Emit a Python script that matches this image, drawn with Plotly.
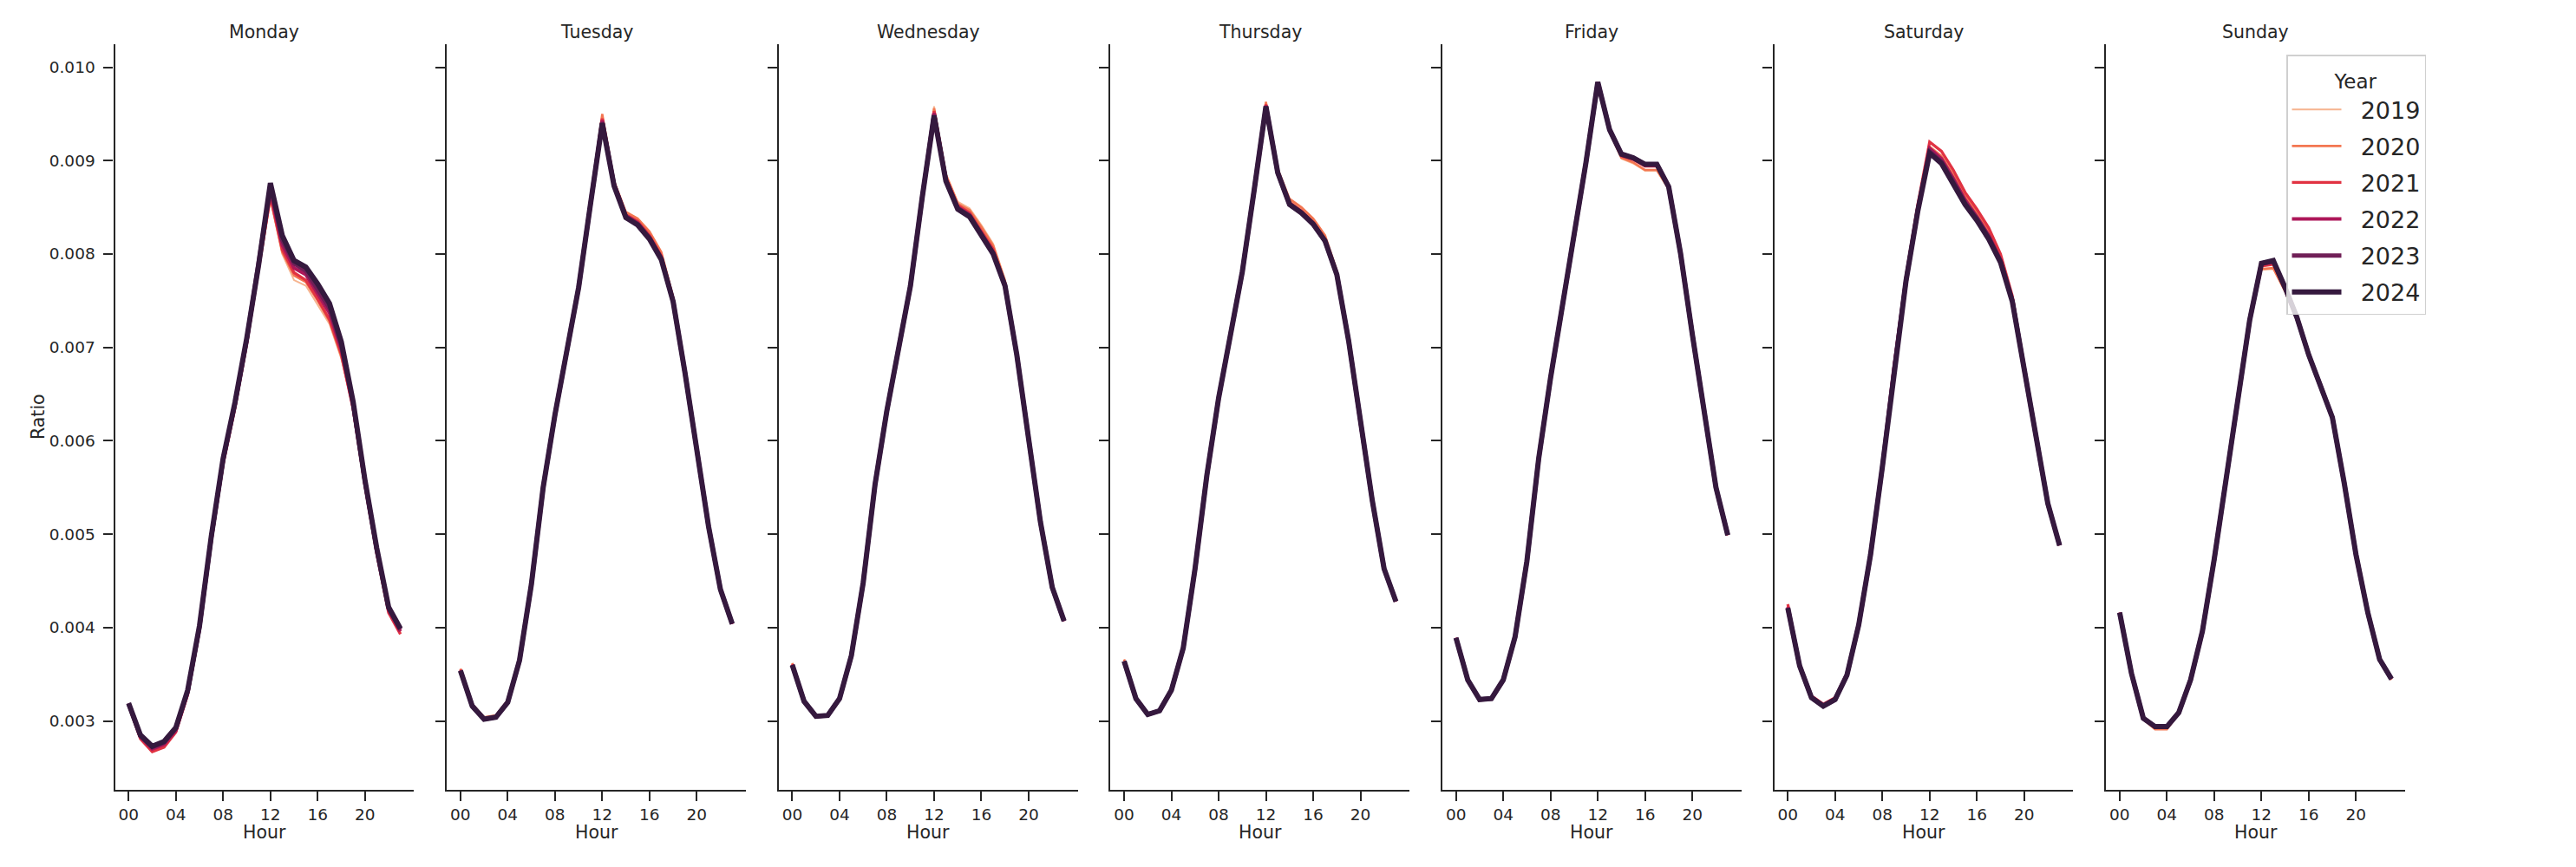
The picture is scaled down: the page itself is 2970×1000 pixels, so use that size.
import plotly.graph_objects as go

W, H = 2970, 1000

days = ["Monday", "Tuesday", "Wednesday", "Thursday", "Friday", "Saturday", "Sunday"]
years = [2019, 2020, 2021, 2022, 2023, 2024]
hours = list(range(24))
hour_ticks = [0, 4, 8, 12, 16, 20]
hour_tick_labels = ["00", "04", "08", "12", "16", "20"]
ratio_ticks = [0.003, 0.004, 0.005, 0.006, 0.007, 0.008, 0.009, 0.010]

year_colors = ["#f6b48f", "#f37651", "#e13342", "#ad1759", "#701f57", "#35193e"]

# ---- Monday ----
monday = {
    2019: [0.00318, 0.00282, 0.00268, 0.00273, 0.00289, 0.00329, 0.00398, 0.00494, 0.00577, 0.00637, 0.00706, 0.00784, 0.00858, 0.00800, 0.00772, 0.00766, 0.00746, 0.00725, 0.00688, 0.00635, 0.00553, 0.00481, 0.00418, 0.00395],
    2020: [0.00318, 0.00282, 0.00268, 0.00273, 0.00289, 0.00329, 0.00398, 0.00493, 0.00576, 0.00636, 0.00705, 0.00783, 0.00860, 0.00802, 0.00777, 0.00770, 0.00750, 0.00728, 0.00690, 0.00635, 0.00553, 0.00480, 0.00417, 0.00394],
    2021: [0.00317, 0.00281, 0.00267, 0.00272, 0.00288, 0.00328, 0.00397, 0.00492, 0.00575, 0.00635, 0.00704, 0.00782, 0.00862, 0.00805, 0.00780, 0.00772, 0.00752, 0.00730, 0.00693, 0.00634, 0.00552, 0.00479, 0.00416, 0.00393],
    2022: [0.00318, 0.00283, 0.00270, 0.00275, 0.00290, 0.00330, 0.00399, 0.00495, 0.00578, 0.00638, 0.00707, 0.00785, 0.00868, 0.00810, 0.00785, 0.00778, 0.00758, 0.00737, 0.00698, 0.00637, 0.00555, 0.00482, 0.00419, 0.00396],
    2023: [0.00319, 0.00284, 0.00272, 0.00277, 0.00292, 0.00332, 0.00401, 0.00497, 0.00580, 0.00640, 0.00709, 0.00787, 0.00872, 0.00815, 0.00790, 0.00782, 0.00762, 0.00742, 0.00702, 0.00640, 0.00557, 0.00484, 0.00421, 0.00398],
    2024: [0.00319, 0.00285, 0.00273, 0.00278, 0.00293, 0.00333, 0.00402, 0.00498, 0.00581, 0.00641, 0.00710, 0.00788, 0.00876, 0.00820, 0.00793, 0.00786, 0.00768, 0.00747, 0.00706, 0.00642, 0.00558, 0.00485, 0.00422, 0.00399],
}

# ---- Tuesday ----
tuesday = {
    2019: [0.00354, 0.00317, 0.00303, 0.00305, 0.00321, 0.00366, 0.00447, 0.00550, 0.00628, 0.00695, 0.00765, 0.00855, 0.00946, 0.00876, 0.00843, 0.00836, 0.00821, 0.00799, 0.00752, 0.00674, 0.00593, 0.00508, 0.00441, 0.00404],
    2020: [0.00356, 0.00318, 0.00304, 0.00306, 0.00322, 0.00367, 0.00448, 0.00551, 0.00629, 0.00696, 0.00766, 0.00857, 0.00950, 0.00878, 0.00845, 0.00838, 0.00824, 0.00802, 0.00754, 0.00675, 0.00594, 0.00509, 0.00441, 0.00404],
    2021: [0.00355, 0.00317, 0.00303, 0.00305, 0.00321, 0.00366, 0.00447, 0.00550, 0.00628, 0.00695, 0.00765, 0.00855, 0.00945, 0.00876, 0.00842, 0.00835, 0.00820, 0.00798, 0.00752, 0.00674, 0.00593, 0.00508, 0.00441, 0.00404],
    2022: [0.00354, 0.00316, 0.00302, 0.00304, 0.00320, 0.00365, 0.00446, 0.00550, 0.00628, 0.00695, 0.00764, 0.00854, 0.00943, 0.00875, 0.00841, 0.00833, 0.00818, 0.00796, 0.00750, 0.00673, 0.00593, 0.00508, 0.00441, 0.00404],
    2023: [0.00354, 0.00316, 0.00302, 0.00304, 0.00320, 0.00365, 0.00446, 0.00550, 0.00628, 0.00695, 0.00764, 0.00853, 0.00941, 0.00874, 0.00840, 0.00832, 0.00817, 0.00795, 0.00749, 0.00673, 0.00593, 0.00508, 0.00441, 0.00404],
    2024: [0.00354, 0.00316, 0.00302, 0.00304, 0.00320, 0.00365, 0.00446, 0.00550, 0.00628, 0.00695, 0.00764, 0.00853, 0.00940, 0.00873, 0.00839, 0.00831, 0.00816, 0.00794, 0.00749, 0.00673, 0.00593, 0.00508, 0.00441, 0.00404],
}

# ---- Wednesday ----
wednesday = {
    2019: [0.00362, 0.00322, 0.00306, 0.00307, 0.00325, 0.00371, 0.00449, 0.00554, 0.00633, 0.00701, 0.00768, 0.00865, 0.00958, 0.00886, 0.00856, 0.00849, 0.00831, 0.00811, 0.00773, 0.00694, 0.00603, 0.00514, 0.00444, 0.00408],
    2020: [0.00362, 0.00322, 0.00306, 0.00307, 0.00325, 0.00371, 0.00449, 0.00554, 0.00633, 0.00701, 0.00768, 0.00864, 0.00956, 0.00885, 0.00854, 0.00847, 0.00829, 0.00809, 0.00771, 0.00694, 0.00603, 0.00514, 0.00444, 0.00408],
    2021: [0.00361, 0.00321, 0.00305, 0.00306, 0.00324, 0.00370, 0.00448, 0.00553, 0.00632, 0.00700, 0.00767, 0.00863, 0.00953, 0.00882, 0.00852, 0.00844, 0.00825, 0.00805, 0.00769, 0.00693, 0.00602, 0.00513, 0.00443, 0.00407],
    2022: [0.00360, 0.00321, 0.00305, 0.00306, 0.00324, 0.00370, 0.00448, 0.00553, 0.00632, 0.00700, 0.00766, 0.00862, 0.00951, 0.00880, 0.00850, 0.00842, 0.00822, 0.00802, 0.00767, 0.00692, 0.00602, 0.00513, 0.00443, 0.00407],
    2023: [0.00360, 0.00321, 0.00305, 0.00306, 0.00324, 0.00370, 0.00448, 0.00553, 0.00632, 0.00700, 0.00766, 0.00861, 0.00949, 0.00879, 0.00849, 0.00841, 0.00821, 0.00801, 0.00766, 0.00692, 0.00602, 0.00513, 0.00443, 0.00407],
    2024: [0.00360, 0.00321, 0.00305, 0.00306, 0.00324, 0.00370, 0.00448, 0.00553, 0.00632, 0.00700, 0.00766, 0.00861, 0.00948, 0.00878, 0.00848, 0.00840, 0.00820, 0.00800, 0.00766, 0.00692, 0.00602, 0.00513, 0.00443, 0.00407],
}

# ---- Thursday ----
thursday = {
    2019: [0.00365, 0.00325, 0.00308, 0.00312, 0.00334, 0.00379, 0.00463, 0.00563, 0.00646, 0.00713, 0.00782, 0.00869, 0.00961, 0.00890, 0.00857, 0.00848, 0.00836, 0.00818, 0.00780, 0.00708, 0.00618, 0.00536, 0.00463, 0.00428],
    2020: [0.00366, 0.00326, 0.00308, 0.00312, 0.00334, 0.00379, 0.00464, 0.00564, 0.00647, 0.00714, 0.00782, 0.00870, 0.00963, 0.00891, 0.00859, 0.00850, 0.00838, 0.00820, 0.00782, 0.00709, 0.00619, 0.00537, 0.00464, 0.00428],
    2021: [0.00364, 0.00324, 0.00307, 0.00311, 0.00333, 0.00378, 0.00463, 0.00563, 0.00646, 0.00713, 0.00781, 0.00868, 0.00960, 0.00888, 0.00855, 0.00846, 0.00834, 0.00816, 0.00779, 0.00707, 0.00618, 0.00536, 0.00463, 0.00428],
    2022: [0.00364, 0.00324, 0.00307, 0.00311, 0.00333, 0.00378, 0.00463, 0.00563, 0.00646, 0.00713, 0.00781, 0.00868, 0.00959, 0.00887, 0.00854, 0.00845, 0.00833, 0.00815, 0.00778, 0.00707, 0.00618, 0.00536, 0.00463, 0.00428],
    2023: [0.00364, 0.00324, 0.00307, 0.00311, 0.00333, 0.00378, 0.00463, 0.00563, 0.00646, 0.00713, 0.00781, 0.00868, 0.00958, 0.00887, 0.00853, 0.00844, 0.00832, 0.00814, 0.00778, 0.00707, 0.00618, 0.00536, 0.00463, 0.00428],
    2024: [0.00364, 0.00324, 0.00307, 0.00311, 0.00333, 0.00378, 0.00463, 0.00563, 0.00646, 0.00713, 0.00781, 0.00868, 0.00958, 0.00887, 0.00853, 0.00844, 0.00832, 0.00814, 0.00778, 0.00707, 0.00618, 0.00536, 0.00463, 0.00428],
}

# ---- Friday ----
friday = {
    2019: [0.00389, 0.00344, 0.00323, 0.00324, 0.00344, 0.00390, 0.00471, 0.00581, 0.00667, 0.00742, 0.00819, 0.00898, 0.00983, 0.00930, 0.00902, 0.00897, 0.00889, 0.00889, 0.00869, 0.00800, 0.00714, 0.00632, 0.00550, 0.00499],
    2020: [0.00389, 0.00344, 0.00323, 0.00324, 0.00344, 0.00390, 0.00471, 0.00581, 0.00667, 0.00742, 0.00819, 0.00898, 0.00983, 0.00931, 0.00903, 0.00898, 0.00890, 0.00890, 0.00870, 0.00800, 0.00714, 0.00632, 0.00550, 0.00499],
    2021: [0.00389, 0.00344, 0.00323, 0.00324, 0.00344, 0.00390, 0.00471, 0.00581, 0.00667, 0.00742, 0.00819, 0.00898, 0.00984, 0.00932, 0.00905, 0.00901, 0.00894, 0.00894, 0.00871, 0.00801, 0.00714, 0.00632, 0.00550, 0.00499],
    2022: [0.00389, 0.00344, 0.00323, 0.00324, 0.00344, 0.00390, 0.00471, 0.00581, 0.00667, 0.00742, 0.00819, 0.00898, 0.00984, 0.00933, 0.00906, 0.00902, 0.00895, 0.00895, 0.00872, 0.00801, 0.00714, 0.00632, 0.00550, 0.00499],
    2023: [0.00389, 0.00344, 0.00323, 0.00324, 0.00344, 0.00390, 0.00471, 0.00581, 0.00667, 0.00742, 0.00819, 0.00898, 0.00984, 0.00933, 0.00907, 0.00903, 0.00896, 0.00896, 0.00872, 0.00801, 0.00714, 0.00632, 0.00550, 0.00499],
    2024: [0.00389, 0.00344, 0.00323, 0.00324, 0.00344, 0.00390, 0.00471, 0.00581, 0.00667, 0.00742, 0.00819, 0.00898, 0.00984, 0.00933, 0.00907, 0.00903, 0.00896, 0.00896, 0.00872, 0.00801, 0.00714, 0.00632, 0.00550, 0.00499],
}

# ---- Saturday ----
saturday = {
    2019: [0.00423, 0.00360, 0.00326, 0.00317, 0.00324, 0.00350, 0.00404, 0.00479, 0.00573, 0.00679, 0.00774, 0.00851, 0.00914, 0.00904, 0.00884, 0.00861, 0.00843, 0.00823, 0.00796, 0.00752, 0.00679, 0.00604, 0.00533, 0.00488],
    2020: [0.00423, 0.00360, 0.00326, 0.00317, 0.00324, 0.00350, 0.00404, 0.00479, 0.00573, 0.00679, 0.00774, 0.00851, 0.00915, 0.00905, 0.00885, 0.00862, 0.00844, 0.00824, 0.00797, 0.00753, 0.00679, 0.00604, 0.00533, 0.00488],
    2021: [0.00425, 0.00361, 0.00327, 0.00318, 0.00325, 0.00351, 0.00405, 0.00480, 0.00575, 0.00681, 0.00776, 0.00853, 0.00920, 0.00910, 0.00890, 0.00866, 0.00848, 0.00828, 0.00800, 0.00755, 0.00680, 0.00605, 0.00534, 0.00489],
    2022: [0.00422, 0.00360, 0.00326, 0.00317, 0.00324, 0.00350, 0.00404, 0.00479, 0.00573, 0.00678, 0.00773, 0.00849, 0.00913, 0.00902, 0.00881, 0.00858, 0.00840, 0.00820, 0.00794, 0.00751, 0.00678, 0.00604, 0.00533, 0.00488],
    2023: [0.00421, 0.00359, 0.00325, 0.00316, 0.00323, 0.00349, 0.00403, 0.00478, 0.00572, 0.00677, 0.00771, 0.00847, 0.00910, 0.00899, 0.00878, 0.00855, 0.00838, 0.00818, 0.00792, 0.00750, 0.00677, 0.00603, 0.00533, 0.00488],
    2024: [0.00421, 0.00359, 0.00325, 0.00316, 0.00323, 0.00349, 0.00403, 0.00478, 0.00572, 0.00677, 0.00771, 0.00846, 0.00908, 0.00897, 0.00876, 0.00853, 0.00836, 0.00816, 0.00791, 0.00749, 0.00677, 0.00603, 0.00533, 0.00488],
}

# ---- Sunday ----
sunday = {
    2019: [0.00416, 0.00351, 0.00302, 0.00292, 0.00292, 0.00308, 0.00344, 0.00396, 0.00473, 0.00560, 0.00646, 0.00727, 0.00783, 0.00784, 0.00760, 0.00730, 0.00691, 0.00659, 0.00625, 0.00555, 0.00478, 0.00416, 0.00366, 0.00345],
    2020: [0.00416, 0.00351, 0.00302, 0.00291, 0.00291, 0.00308, 0.00344, 0.00396, 0.00473, 0.00560, 0.00646, 0.00727, 0.00784, 0.00785, 0.00760, 0.00729, 0.00690, 0.00658, 0.00624, 0.00554, 0.00478, 0.00416, 0.00366, 0.00344],
    2021: [0.00416, 0.00351, 0.00303, 0.00293, 0.00293, 0.00309, 0.00344, 0.00396, 0.00473, 0.00560, 0.00647, 0.00728, 0.00787, 0.00789, 0.00762, 0.00731, 0.00691, 0.00659, 0.00625, 0.00555, 0.00478, 0.00416, 0.00366, 0.00345],
    2022: [0.00416, 0.00351, 0.00303, 0.00294, 0.00294, 0.00309, 0.00344, 0.00396, 0.00473, 0.00560, 0.00647, 0.00729, 0.00789, 0.00791, 0.00763, 0.00732, 0.00692, 0.00660, 0.00625, 0.00555, 0.00478, 0.00416, 0.00366, 0.00345],
    2023: [0.00416, 0.00351, 0.00303, 0.00294, 0.00294, 0.00309, 0.00344, 0.00396, 0.00473, 0.00560, 0.00647, 0.00729, 0.00790, 0.00792, 0.00764, 0.00732, 0.00692, 0.00660, 0.00625, 0.00555, 0.00478, 0.00416, 0.00366, 0.00345],
    2024: [0.00416, 0.00351, 0.00303, 0.00294, 0.00294, 0.00309, 0.00344, 0.00396, 0.00473, 0.00560, 0.00647, 0.00729, 0.00790, 0.00793, 0.00764, 0.00732, 0.00692, 0.00660, 0.00625, 0.00555, 0.00478, 0.00416, 0.00366, 0.00345],
}

day_data = [monday, tuesday, wednesday, thursday, friday, saturday, sunday]

# ---- styling ----
FONT = "DejaVu Sans"
INK = "#262626"
line_widths = [2.0, 2.6, 3.3, 4.1, 5.0, 6.0]
LEGEND_PAD = "\u00a0\u00a0"

# the page body adds an 8px margin; positions below are page pixels
OFF = 8
panel_left_px = 132.6 - OFF
panel_step_px = 382.6
panel_width_px = 344.7
axis_top_px = 51 - OFF
axis_bottom_px = 911 - OFF
x_range = [-1.15, 24.15]
y_range = [0.002263, 0.010246]

fig = go.Figure()

for i, (day, data) in enumerate(zip(days, day_data)):
    n = "" if i == 0 else str(i + 1)
    for k, year in enumerate(years):
        fig.add_trace(go.Scatter(
            x=hours, y=data[year], mode="lines",
            line=dict(color=year_colors[k], width=line_widths[k]),
            name=LEGEND_PAD + str(year), legendgroup=str(year), showlegend=(i == 0),
            xaxis="x" + n, yaxis="y" + n,
            hovertemplate=day + " %{x}h: %{y:.5f}<extra>" + str(year) + "</extra>",
        ))
    l = panel_left_px + i * panel_step_px
    r = l + panel_width_px
    fig.layout["xaxis" + n] = dict(
        domain=[l / W, r / W], anchor="y" + n, range=x_range,
        tickmode="array", tickvals=hour_ticks, ticktext=hour_tick_labels,
        ticks="outside", ticklen=11, tickwidth=2, tickcolor=INK,
        showline=True, linecolor=INK, linewidth=2.4,
        showgrid=False, zeroline=False,
        tickfont=dict(family=FONT, size=18.5, color=INK),
    )
    fig.layout["yaxis" + n] = dict(
        domain=[1 - axis_bottom_px / H, 1 - axis_top_px / H], anchor="x" + n,
        range=y_range, tickmode="array", tickvals=ratio_ticks,
        tickformat=".3f", showticklabels=(i == 0),
        ticks="outside", ticklen=11, tickwidth=2, tickcolor=INK,
        showline=True, linecolor=INK, linewidth=2.4,
        showgrid=False, zeroline=False, ticklabelstandoff=6,
        tickfont=dict(family=FONT, size=18.5, color=INK),
    )
    cx = (l + r) / 2 / W
    fig.add_annotation(text=day, x=cx, y=1 - (37 - OFF) / H, xref="paper", yref="paper",
                       showarrow=False, xanchor="center", yanchor="middle",
                       font=dict(family=FONT, size=20.5, color=INK))
    fig.add_annotation(text="Hour", x=cx, y=1 - (960 - OFF) / H, xref="paper", yref="paper",
                       showarrow=False, xanchor="center", yanchor="middle",
                       font=dict(family=FONT, size=20.5, color=INK))

fig.add_annotation(text="Ratio", x=(44 - OFF) / W, y=1 - (481 - OFF) / H, xref="paper", yref="paper",
                   showarrow=False, xanchor="center", yanchor="middle", textangle=-90,
                   font=dict(family=FONT, size=20.5, color=INK))

fig.update_layout(
    width=W, height=H,
    margin=dict(l=0, r=0, t=0, b=0),
    paper_bgcolor="white", plot_bgcolor="white",
    font=dict(family=FONT, color=INK),
    legend=dict(
        title=dict(text="<span style='font-size:23px'>Year</span>", side="top center",
                   font=dict(family=FONT, size=29, color=INK)),
        font=dict(family=FONT, size=27, color=INK),
        x=(2636 - OFF) / W, y=1 - (63 - OFF) / H, xanchor="left", yanchor="top",
        bgcolor="rgba(255,255,255,0.8)", bordercolor="#d0d0d0", borderwidth=1.5,
        tracegroupgap=4, itemwidth=57,
    ),
    showlegend=True,
)

fig.write_html("out.html")
